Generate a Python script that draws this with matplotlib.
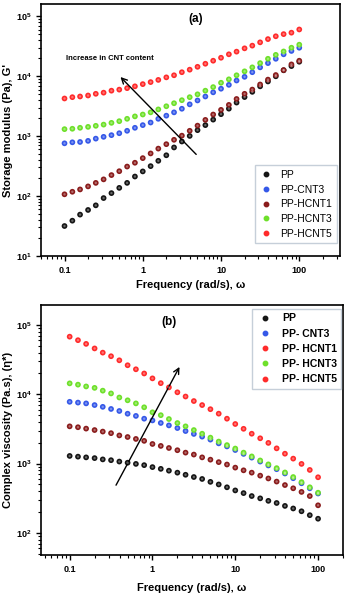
import matplotlib
matplotlib.use('Agg')
import matplotlib.pyplot as plt
from matplotlib.lines import Line2D

plt.rcParams['font.family'] = ['Liberation Sans', 'DejaVu Sans']

# frequency (rad/s), 10 points per decade
freq = [0.1, 0.126, 0.158, 0.2, 0.251, 0.316, 0.398, 0.501, 0.631, 0.794,
        1.0, 1.26, 1.58, 2.0, 2.51, 3.16, 3.98, 5.01, 6.31, 7.94,
        10.0, 12.6, 15.8, 20.0, 25.1, 31.6, 39.8, 50.1, 63.1, 79.4, 100.0]

# (a) storage modulus G' (Pa)
g_pp = [31.6, 38.8, 49, 58.6, 70, 92.6, 112, 137, 166, 212,
        258, 316, 388, 480, 648, 815, 1010, 1260, 1530, 1890,
        2330, 2880, 3640, 4500, 5500, 6800, 8200, 10000, 12600, 14800, 17500]
g_cnt3 = [760, 790, 800, 835, 910, 975, 1040, 1120, 1230, 1380,
          1530, 1690, 1950, 2200, 2500, 2870, 3400, 3950, 4600, 5400,
          6200, 7200, 8500, 9800, 11700, 14100, 16600, 19600, 23300, 26500, 30000]
g_hcnt1 = [107, 118, 129, 145, 166, 190, 224, 260, 311, 360,
           430, 515, 620, 735, 870, 1020, 1230, 1500, 1870, 2300,
           2750, 3330, 4180, 5100, 6000, 7300, 8800, 10500, 12700, 15800, 18200]
g_hcnt3 = [1310, 1330, 1380, 1430, 1490, 1560, 1670, 1780, 1950, 2140,
           2300, 2500, 2800, 3160, 3550, 3990, 4480, 5000, 5750, 6600,
           7800, 8900, 10400, 12100, 14100, 16600, 19600, 22800, 26000, 30000, 33700]
g_hcnt5 = [4260, 4480, 4600, 4780, 5100, 5330, 5750, 5990, 6340, 6800,
           7400, 8000, 8700, 9600, 10400, 11700, 12900, 14400, 16200, 18200,
           20400, 23300, 25800, 29300, 32500, 36900, 41800, 46600, 50600, 53500, 60500]

# (b) complex viscosity (Pa.s)
v_pp = [1290, 1260, 1230, 1200, 1150, 1120, 1070, 1030, 990, 950,
        890, 840, 790, 740, 690, 640, 600, 545, 500, 455,
        410, 375, 340, 315, 290, 270, 245, 225, 205, 180, 160]
v_cnt3 = [7800, 7600, 7400, 7000, 6600, 6150, 5750, 5250, 4880, 4450,
          4200, 3860, 3560, 3260, 2950, 2680, 2450, 2220, 1960, 1770,
          1570, 1380, 1220, 1070, 940, 830, 720, 615, 520, 440, 370]
v_hcnt1 = [3450, 3350, 3200, 3050, 2900, 2750, 2550, 2420, 2270, 2130,
           1920, 1800, 1680, 1560, 1440, 1350, 1230, 1140, 1050, 970,
           875, 800, 740, 670, 610, 550, 490, 440, 390, 340, 250]
v_hcnt3 = [14400, 13800, 13000, 12400, 11300, 10300, 9000, 8200, 7400, 6500,
           5500, 5000, 4400, 3850, 3450, 3050, 2700, 2370, 2080, 1850,
           1650, 1440, 1270, 1110, 975, 860, 745, 640, 540, 455, 380]
v_hcnt5 = [68000, 60500, 53500, 46000, 40000, 35500, 31000, 26300, 23000, 20000,
           17000, 14500, 12600, 10700, 9300, 8000, 7000, 6100, 5260, 4450,
           3730, 3180, 2700, 2320, 1990, 1660, 1390, 1180, 990, 810, 635]

colors = ['#151515', '#3558e8', '#8a1c1c', '#6ee02a', '#ff2b2b']
labels_a = ['PP', 'PP-CNT3', 'PP-HCNT1', 'PP-HCNT3', 'PP-HCNT5']
labels_b = ['PP', 'PP- CNT3', 'PP- HCNT1', 'PP- HCNT3', 'PP- HCNT5']
legend_colors_b = ['#151515', '#3558e8', '#ff2b2b', '#6ee02a', '#ff2b2b']

fig = plt.figure(figsize=(3.5, 5.98), dpi=100)
ax1 = fig.add_axes([0.117, 0.572, 0.854, 0.421])
ax2 = fig.add_axes([0.117, 0.072, 0.863, 0.418])


def draw(ax, series):
    for ys, c in zip(series, colors):
        ax.scatter(freq, ys, s=17, color=c, edgecolors='none', zorder=3)
        # small highlight to mimic the shaded spheres
        ax.scatter(freq, ys, s=3, color='white', alpha=0.35, edgecolors='none', zorder=4)
    ax.set_xscale('log')
    ax.set_yscale('log')
    for sp in ax.spines.values():
        sp.set_linewidth(1.2)
    ax.tick_params(which='both', direction='out', top=False, right=False)
    ax.tick_params(which='major', length=3.5, width=1, labelsize=6.5)
    ax.tick_params(which='minor', length=2, width=0.8)
    ax.set_xticks([0.1, 1, 10, 100])
    ax.set_xticklabels(['0.1', '1', '10', '100'], fontweight='bold')
    for t in ax.get_yticklabels():
        t.set_fontweight('bold')


draw(ax1, [g_pp, g_cnt3, g_hcnt1, g_hcnt3, g_hcnt5])
ax1.set_xlim(0.05, 330)
ax1.set_ylim(10, 1.6e5)
ax1.set_xlabel('Frequency (rad/s), ω', fontsize=8, fontweight='bold', labelpad=4)
ax1.set_ylabel("Storage modulus (Pa), G'", fontsize=8, fontweight='bold', labelpad=2)
ax1.text(4.8, 9.2e4, '(a)', fontsize=8.5, fontweight='bold', ha='center', va='center')
ax1.text(0.106, 2.0e4, 'Increase in CNT content', fontsize=5.5, fontweight='bold',
         ha='left', va='center')
ax1.annotate('', xy=(0.49, 1.05e4), xytext=(5.1, 460),
             arrowprops=dict(arrowstyle='->', lw=1, color='black'))
h_a = [Line2D([], [], ls='none', marker='o', ms=3.2, color=c, label=l)
       for c, l in zip(colors, labels_a)]
ax1.legend(handles=h_a, loc='lower right', bbox_to_anchor=(0.99, 0.05), fontsize=7.5,
           frameon=True, fancybox=False, edgecolor='#b8c4d0', handlelength=1.2,
           handletextpad=0.8, labelspacing=0.45, borderpad=0.45, borderaxespad=0)

draw(ax2, [v_pp, v_cnt3, v_hcnt1, v_hcnt3, v_hcnt5])
ax2.set_xlim(0.045, 200)
ax2.set_ylim(48, 1.95e5)
ax2.set_xlabel('Frequency (rad/s), ω', fontsize=8, fontweight='bold', labelpad=7)
ax2.set_ylabel('Complex viscosity (Pa.s), (η*)', fontsize=8, fontweight='bold', labelpad=2)
ax2.text(1.6, 1.12e5, '(b)', fontsize=8.5, fontweight='bold', ha='center', va='center')
ax2.annotate('', xy=(2.2, 2.7e4), xytext=(0.35, 450),
             arrowprops=dict(arrowstyle='->', lw=1, color='black'))
h_b = [Line2D([], [], ls='none', marker='o', ms=3.2, color=c, label=l)
       for c, l in zip(legend_colors_b, labels_b)]
ax2.legend(handles=h_b, loc='upper right', bbox_to_anchor=(0.995, 0.985),
           frameon=True, fancybox=False, edgecolor='#b8c4d0', handlelength=1.6,
           handletextpad=0.8, labelspacing=0.5, borderpad=0.45, borderaxespad=0,
           prop={'weight': 'bold', 'size': 7.5})

fig.savefig('out.png', dpi=100)
